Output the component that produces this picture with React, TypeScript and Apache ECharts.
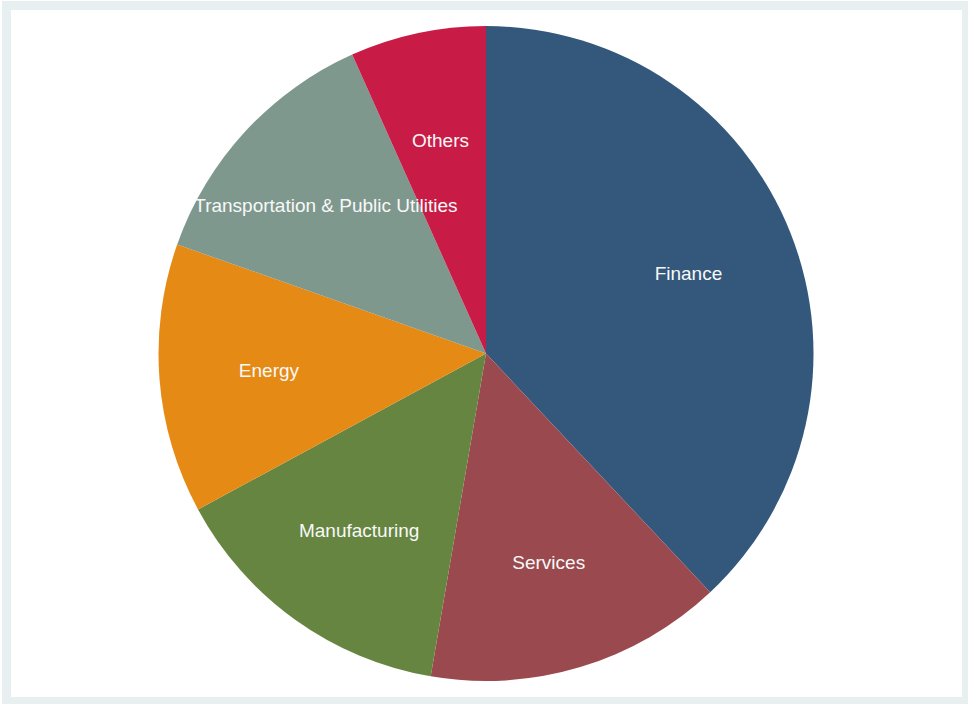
import React, { useEffect, useRef } from "react";
import * as echarts from "echarts";

// Sector shares, in percent
const sectors = [
  "Finance",
  "Services",
  "Manufacturing",
  "Energy",
  "Transportation & Public Utilities",
  "Others",
];
const shares = [38.0, 14.7, 14.4, 13.3, 12.9, 6.7];
const sliceColors = ["#33587c", "#9a4a4f", "#668540", "#e68a16", "#7e988e", "#c81c47"];

export default function App() {
  const ref = useRef<HTMLDivElement>(null);

  useEffect(() => {
    if (!ref.current) return;
    const chart = echarts.init(ref.current, undefined, { renderer: "svg" });
    const data = sectors.map((name, i) => ({
      name,
      value: shares[i],
      itemStyle: { color: sliceColors[i] },
    }));
    const center = [486, 353.5];
    chart.setOption({
      animation: false,
      backgroundColor: "#ffffff",
      graphic: [
        {
          type: "rect",
          shape: { x: 6.5, y: 5.5, width: 960, height: 696 },
          style: { fill: "none", stroke: "#e8eff1", lineWidth: 9 },
          silent: true,
        },
      ],
      series: [
        {
          type: "pie",
          center,
          radius: [0, 327.5],
          startAngle: 90,
          clockwise: true,
          label: { show: false },
          labelLine: { show: false },
          emphasis: { disabled: true },
          itemStyle: { borderWidth: 0 },
          data,
        },
        {
          // transparent ring that carries the slice names at about 2/3 of the radius
          type: "pie",
          center,
          radius: [102, 327.5],
          startAngle: 90,
          clockwise: true,
          silent: true,
          emphasis: { disabled: true },
          itemStyle: { color: "transparent", borderWidth: 0 },
          label: {
            show: true,
            position: "inside",
            formatter: "{b}",
            color: "#f8f8f8",
            fontFamily: "Liberation Sans, Arial, sans-serif",
            fontSize: 19,
          },
          labelLine: { show: false },
          data: sectors.map((name, i) => ({ name, value: shares[i] })),
        },
      ],
    });
    return () => chart.dispose();
  }, []);

  return (
    <div
      ref={ref}
      style={{ position: "absolute", left: 0, top: 0, width: 968, height: 704 }}
    />
  );
}
